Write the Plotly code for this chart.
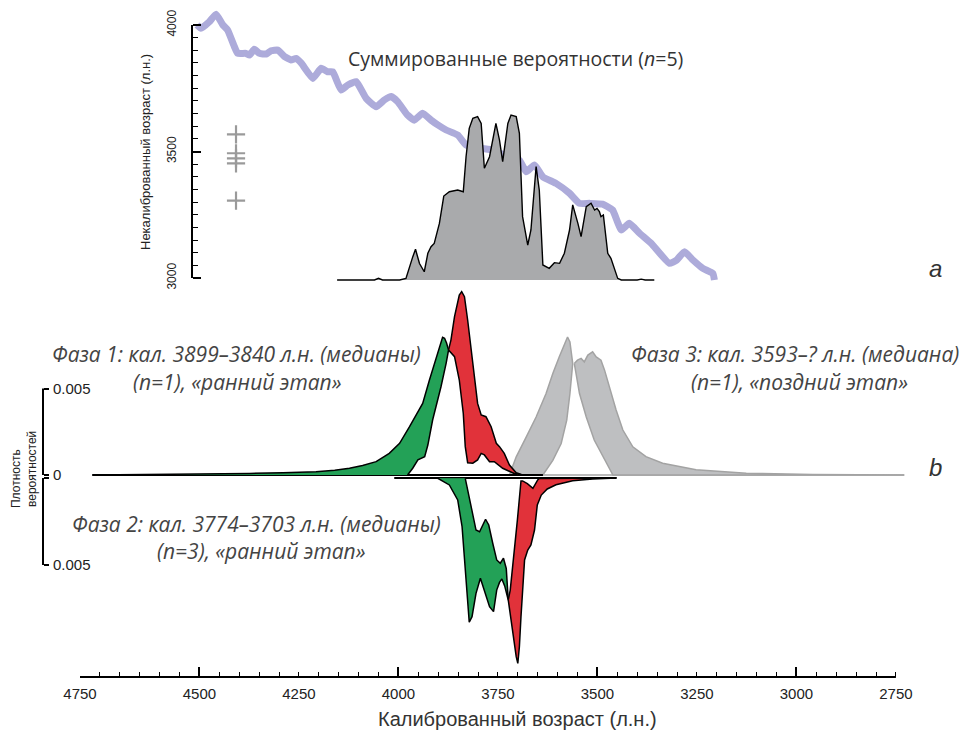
import plotly.graph_objects as go

# ---------------- data ----------------
# calibration curve (cal BP -> 14C BP)
cal_curve_bp = [4506, 4496, 4475, 4458, 4441, 4429, 4412, 4404, 4383, 4374, 4362, 4349, 4332, 4320, 4303,
                4286, 4270, 4257, 4244, 4215, 4194, 4178, 4165, 4144, 4127, 4106, 4081, 4056, 4035, 4018,
                4002, 3977, 3960, 3939, 3918, 3901, 3880, 3851, 3830, 3796, 3763, 3734, 3696, 3679, 3658,
                3637, 3604, 3570, 3545, 3520, 3487, 3462, 3440, 3420, 3394, 3365, 3319, 3301, 3281, 3260,
                3235, 3210, 3206]
cal_curve_c14 = [4000, 3987, 4013, 4043, 4000, 3980, 3914, 3888, 3888, 3881, 3904, 3888, 3885, 3898, 3901,
                 3875, 3862, 3868, 3849, 3789, 3829, 3815, 3815, 3743, 3763, 3776, 3710, 3677, 3704, 3717,
                 3697, 3644, 3624, 3651, 3624, 3605, 3585, 3565, 3526, 3513, 3506, 3486, 3466, 3420, 3447,
                 3400, 3374, 3335, 3295, 3295, 3292, 3269, 3190, 3216, 3177, 3137, 3058, 3071, 3104, 3071,
                 3038, 3018, 2992]

# radiocarbon dates (14C BP), n = 5
dates_c14 = [3568, 3493, 3473, 3453, 3306]

# summed probability (relative)
sum_x = [4154, 4060, 4050, 4040, 3997, 3981, 3964, 3957, 3947, 3935, 3926, 3918, 3910, 3897, 3886,
         3872, 3851, 3837, 3830, 3822, 3813, 3801, 3792, 3784, 3771, 3755, 3746, 3738, 3725, 3717,
         3704, 3696, 3688, 3675, 3667, 3654, 3646, 3637, 3621, 3608, 3595, 3583, 3570, 3562, 3549,
         3541, 3528, 3516, 3507, 3501, 3495, 3491, 3485, 3474, 3466, 3449, 3440, 3400, 3390, 3380, 3357]
sum_p = [0, 0, 0.01, 0, 0, 0.01, 0.14, 0.186, 0.10, 0.05, 0.162, 0.202, 0.222, 0.343, 0.509,
         0.535, 0.545, 0.535, 0.747, 0.919, 0.980, 0.990, 0.949, 0.677, 0.747, 0.949, 0.848, 0.717, 0.949, 1.0,
         0.990, 0.889, 0.384, 0.212, 0.303, 0.687, 0.545, 0.091, 0.071, 0.105, 0.101, 0.162, 0.303, 0.455, 0.343,
         0.263, 0.444, 0.465, 0.424, 0.434, 0.414, 0.384, 0.394, 0.162, 0.131, 0.01, 0, 0, 0.005, 0, 0]

# Each shape: "outer" runs from one end to the other, "inner" runs in the same direction
# (polygon = outer + reversed inner).

# Phase 1 start (green, upper)
ph1s_out_x = [4769, 4600, 4450, 4374, 4290, 4207, 4160, 4123, 4090, 4056, 4023, 3997, 3972, 3955, 3939,
              3922, 3905, 3896, 3889, 3884, 3879, 3874]
ph1s_out_p = [0, 0.00003, 0.00006, 0.00009, 0.00013, 0.00019, 0.00027, 0.00039, 0.00055, 0.00077, 0.00125,
              0.00183, 0.00279, 0.00347, 0.00414, 0.00549, 0.00684, 0.00755, 0.00796, 0.00790, 0.00763, 0.00723]
ph1s_in_x = [3977, 3964, 3951, 3934, 3926, 3914, 3902, 3893, 3880, 3874]
ph1s_in_p = [0, 0.00039, 0.00087, 0.00106, 0.00173, 0.00318, 0.00434, 0.00510, 0.00647, 0.00723]

# Phase 1 end (red, upper)
ph1e_out_x = [3874, 3868, 3859, 3847, 3841, 3834, 3826, 3818, 3809, 3801, 3792, 3780, 3767, 3754, 3746,
              3734, 3721, 3704, 3691, 3660, 3637]
ph1e_out_p = [0.00723, 0.00780, 0.00915, 0.01040, 0.01060, 0.01031, 0.00896, 0.00742, 0.00568, 0.00414,
              0.00347, 0.00337, 0.00279, 0.00183, 0.00164, 0.00125, 0.00058, 0.00013, 0.00003, 0.00001, 0]
ph1e_in_x = [3874, 3859, 3847, 3837, 3832, 3826, 3813, 3801, 3792, 3784, 3771, 3759, 3738, 3713, 3701]
ph1e_in_p = [0.00723, 0.00684, 0.00549, 0.00357, 0.00164, 0.00071, 0.00068, 0.00087, 0.00125, 0.00116,
             0.00077, 0.00077, 0.00039, 0.00013, 0]

# Phase 3 (grey, upper): two boundaries
ph3a_out_x = [3721, 3704, 3679, 3654, 3629, 3612, 3596, 3583, 3575, 3569, 3562]
ph3a_out_p = [0, 0.00105, 0.00219, 0.00335, 0.00471, 0.00587, 0.00682, 0.00760, 0.00798, 0.00769, 0.00644]
ph3a_in_x = [3637, 3612, 3591, 3577, 3569, 3562]
ph3a_in_p = [0, 0.00085, 0.00182, 0.00317, 0.00471, 0.00644]
ph3b_out_x = [3558, 3550, 3541, 3533, 3524, 3512, 3503, 3491, 3482, 3470, 3453, 3436, 3411, 3378, 3336,
              3252, 3126, 2959, 2729]
ph3b_out_p = [0.00644, 0.00664, 0.00674, 0.00654, 0.00693, 0.00712, 0.00683, 0.00664, 0.00606, 0.00510,
              0.00376, 0.00260, 0.00163, 0.00106, 0.00068, 0.00030, 0.00010, 0.00003, 0]
ph3b_in_x = [3558, 3545, 3528, 3508, 3482, 3461]
ph3b_in_p = [0.00644, 0.00471, 0.00335, 0.00202, 0.00087, 0]

# Phase 2 start (green, lower)
ph2s_out_x = [4010, 3947, 3901, 3872, 3851, 3840, 3832, 3826, 3822, 3815, 3805, 3794, 3784, 3771, 3761,
              3753, 3746, 3740, 3733, 3727, 3724]
ph2s_out_p = [0, 0.00001, 0.00002, 0.00040, 0.00126, 0.00280, 0.00510, 0.00720, 0.00829, 0.00797, 0.00663,
              0.00576, 0.00644, 0.00740, 0.00768, 0.00644, 0.00600, 0.00580, 0.00620, 0.00680, 0.00701]
ph2s_in_x = [3832, 3826, 3817, 3805, 3796, 3781, 3773, 3763, 3753, 3744, 3736, 3729, 3724]
ph2s_in_p = [0.00002, 0.00050, 0.00165, 0.00299, 0.00309, 0.00237, 0.00270, 0.00375, 0.00471, 0.00490,
             0.00461, 0.00520, 0.00701]

# Phase 2 end (red, lower)
ph2e_out_x = [3724, 3713, 3704, 3700, 3696, 3692, 3688, 3683, 3675, 3667, 3658, 3651, 3641, 3626, 3604,
              3562, 3512, 3452]
ph2e_out_p = [0.00701, 0.00893, 0.01027, 0.01065, 0.00970, 0.00797, 0.00625, 0.00471, 0.00414, 0.00385,
              0.00299, 0.00155, 0.00098, 0.00063, 0.00039, 0.00016, 0.00006, 0]
ph2e_in_x = [3724, 3719, 3711, 3701, 3692, 3688, 3676, 3662, 3650, 3646, 3452]
ph2e_in_p = [0.00701, 0.00644, 0.00471, 0.00241, 0.00017, 0.00017, 0.00032, 0.00059, 0.00011, 0.00003, 0]

# axis ticks
x_major = [4500, 4000, 3500, 3000]
x_label_vals = [4800, 4500, 4250, 4000, 3750, 3500, 3250, 3000, 2750]
x_label_text = ["4750", "4500", "4250", "4000", "3750", "3500", "3250", "3000", "2750"]
x_minor = list(range(4800, 2749, -50))
y_major = [3000, 3500, 4000]
y_minor = list(range(3000, 4001, 50))
dens_ticks = [0, 0.005]

# ---------------- layout helpers ----------------
W, H = 968, 730
PLOT_H = 677  # plot area from top to x-axis line


def fx(px):
    return px / W


def fy(py):
    return (PLOT_H - py) / PLOT_H


def axis_range(p_bot, p_top, v0, p0, k):
    """value at pixel p: v0 + (p0 - p) / k"""
    return [v0 + (p0 - p_bot) / k, v0 + (p0 - p_top) / k]


X_LEFT, X_RIGHT = 4800, 2700
PX_PER_YR = 0.398
x_dom = [fx(80), fx(80 + (X_LEFT - X_RIGHT) * PX_PER_YR)]

DATE_X = 4408  # plotting position of the dates
AXF = "Liberation Sans, Arial, sans-serif"
TXF = "Open Sans, sans-serif"
GREEN, RED = "#23a157", "#e1323a"

fig = go.Figure()

# ---- panel a ----
fig.add_trace(go.Scatter(x=cal_curve_bp, y=cal_curve_c14, mode="lines",
                         line=dict(color="#adabda", width=7, shape="spline", smoothing=0.4),
                         xaxis="x", yaxis="y"))
fig.add_trace(go.Scatter(x=[DATE_X] * len(dates_c14), y=dates_c14, mode="markers",
                         marker=dict(symbol="cross-thin", size=13, line=dict(color="#9a9a9a", width=2.2)),
                         xaxis="x2", yaxis="y"))
fig.add_trace(go.Scatter(x=sum_x, y=sum_p, mode="lines", fill="tozeroy", fillcolor="#a9aaac",
                         line=dict(color="black", width=1.4), xaxis="x", yaxis="y2"))


def poly(out_x, out_p, in_x, in_p):
    return list(out_x) + list(in_x[::-1]), list(out_p) + list(in_p[::-1])


# ---- panel b, upper ----
fig.add_trace(go.Scatter(x=[ph3a_out_x[0], ph3b_out_x[-1]], y=[0, 0], mode="lines",
                         line=dict(color="#a5a5a5", width=1.5), xaxis="x", yaxis="y3"))
for ox, op, ix, ip in [(ph3a_out_x, ph3a_out_p, ph3a_in_x, ph3a_in_p),
                       (ph3b_out_x, ph3b_out_p, ph3b_in_x, ph3b_in_p)]:
    px_, py_ = poly(ox, op, ix, ip)
    fig.add_trace(go.Scatter(x=px_, y=py_, mode="lines", fill="toself", fillcolor="#bebfc1",
                             line=dict(color="#a3a3a3", width=1.5), xaxis="x", yaxis="y3"))
fig.add_trace(go.Scatter(x=[ph1s_out_x[0], ph1e_out_x[-1]], y=[0, 0], mode="lines",
                         line=dict(color="black", width=1.8), xaxis="x", yaxis="y3"))
for ox, op, ix, ip, col in [(ph1s_out_x, ph1s_out_p, ph1s_in_x, ph1s_in_p, GREEN),
                            (ph1e_out_x, ph1e_out_p, ph1e_in_x, ph1e_in_p, RED)]:
    px_, py_ = poly(ox, op, ix, ip)
    fig.add_trace(go.Scatter(x=px_, y=py_, mode="lines", fill="toself", fillcolor=col,
                             line=dict(color="black", width=1.5), xaxis="x", yaxis="y3"))

# ---- panel b, lower ----
fig.add_trace(go.Scatter(x=[ph2s_out_x[0], ph2e_out_x[-1]], y=[0, 0], mode="lines",
                         line=dict(color="black", width=1.8), xaxis="x", yaxis="y4"))
for ox, op, ix, ip, col in [(ph2s_out_x, ph2s_out_p, ph2s_in_x, ph2s_in_p, GREEN),
                            (ph2e_out_x, ph2e_out_p, ph2e_in_x, ph2e_in_p, RED)]:
    px_, py_ = poly(ox, op, ix, ip)
    fig.add_trace(go.Scatter(x=px_, y=py_, mode="lines", fill="toself", fillcolor=col,
                             line=dict(color="black", width=1.5), xaxis="x", yaxis="y4"))

# ---------------- axes ----------------
common_x = dict(domain=x_dom, range=[X_LEFT, X_RIGHT], anchor="free", position=0,
                showline=False, showgrid=False, zeroline=False)
xaxis = dict(common_x, tickmode="array", tickvals=x_major, ticks="inside", ticklen=10,
             tickwidth=1.6, tickcolor="black", showticklabels=False,
             minor=dict(tickmode="array", tickvals=x_minor, ticks="inside", ticklen=5,
                        tickwidth=1.4, tickcolor="black", showgrid=False))
xaxis2 = dict(common_x, overlaying="x", side="bottom", tickmode="array", tickvals=x_label_vals,
              ticktext=x_label_text, ticks="", ticklabelstandoff=6,
              tickfont=dict(family=AXF, size=15, color="#222"))

ya_dom = [fy(283), fy(5)]
yaxis = dict(domain=ya_dom, range=axis_range(283, 5, 3000, 278, 0.253), anchor="free",
             position=fx(192), side="left", showline=False, showgrid=False, zeroline=False,
             tickmode="array", tickvals=y_major, ticks="inside", ticklen=8, tickwidth=2,
             tickcolor="black", tickangle=-90, ticklabelstandoff=14,
             tickfont=dict(family=AXF, size=12, color="#222"),
             minor=dict(tickmode="array", tickvals=y_minor, ticks="inside", ticklen=5,
                        tickwidth=1.4, tickcolor="black", showgrid=False))
yaxis2 = dict(domain=ya_dom, range=axis_range(283, 5, 0, 280, 165), overlaying="y",
              anchor="x", visible=False)
dens_common = dict(anchor="free", position=fx(43), side="left", showline=False, showgrid=False,
                   zeroline=False, tickmode="array", tickvals=dens_ticks, ticks="inside",
                   ticklen=5, tickwidth=2, tickcolor="black", ticklabelposition="inside",
                   ticklabeloverflow="allow", ticklabelstandoff=4,
                   tickfont=dict(family=AXF, size=15, color="#222"))
yaxis3 = dict(dens_common, domain=[fy(479), fy(280)],
              range=axis_range(479, 280, 0, 475, 17300), ticktext=["0", "0.005"])
yaxis4 = dict(dens_common, domain=[fy(672), fy(474)],
              range=axis_range(672, 474, 0, 478, -17400), ticktext=["", "0.005"])

shapes = [
    dict(type="line", xref="paper", yref="y", x0=fx(192), x1=fx(192), y0=3000, y1=4000,
         line=dict(color="black", width=2)),
    dict(type="line", xref="paper", yref="y3", x0=fx(43), x1=fx(43), y0=0, y1=0.005,
         line=dict(color="black", width=2)),
    dict(type="line", xref="paper", yref="y4", x0=fx(43), x1=fx(43), y0=0, y1=0.005,
         line=dict(color="black", width=2)),
    dict(type="line", xref="x", yref="paper", x0=X_LEFT, x1=2750, y0=0, y1=0,
         line=dict(color="black", width=2)),
]


def ann(text, px, py, size, family=TXF, color="#444", angle=0, align="center", xanchor="center"):
    return dict(text=text, x=fx(px), y=fy(py), xref="paper", yref="paper", showarrow=False,
                font=dict(family=family, size=size, color=color), textangle=angle,
                align=align, xanchor=xanchor, yanchor="middle")


PH = 21
annotations = [
    ann("Некалиброванный возраст (л.н.)", 145, 152, 13, family=AXF, color="#222", angle=-90),
    ann("Суммированные вероятности (<i>n</i>=5)", 515, 58, 19.5, color="#333"),
    ann("<i>Фаза 1: кал. 3899–3840 л.н. (медианы)</i>", 236, 354, PH),
    ann("<i>(n=1), «ранний этап»</i>", 237, 382, PH),
    ann("<i>Фаза 3: кал. 3593–? л.н. (медиана)</i>", 795, 354, PH),
    ann("<i>(n=1), «поздний этап»</i>", 799, 382, PH),
    ann("<i>Фаза 2: кал. 3774–3703 л.н. (медианы)</i>", 256, 524, PH),
    ann("<i>(n=3), «ранний этап»</i>", 261, 551, PH),
    ann("<i>a</i>", 935, 268, 24, family=AXF, color="#333"),
    ann("<i>b</i>", 935, 468, 24, family=AXF, color="#333"),
    ann("Плотность", 16, 479, 12, family=AXF, color="#222", angle=-90),
    ann("вероятностей", 32, 469, 12, family=AXF, color="#222", angle=-90),
    ann("Калиброванный возраст (л.н.)", 517, 719, 20, family=AXF, color="#333"),
]

fig.update_layout(
    width=W, height=H, margin=dict(l=0, r=0, t=0, b=H - PLOT_H, autoexpand=False),
    paper_bgcolor="white", plot_bgcolor="rgba(0,0,0,0)", showlegend=False,
    xaxis=xaxis, xaxis2=xaxis2, yaxis=yaxis, yaxis2=yaxis2, yaxis3=yaxis3, yaxis4=yaxis4,
    shapes=shapes, annotations=annotations, hovermode=False,
)

fig.write_html("out.html")
